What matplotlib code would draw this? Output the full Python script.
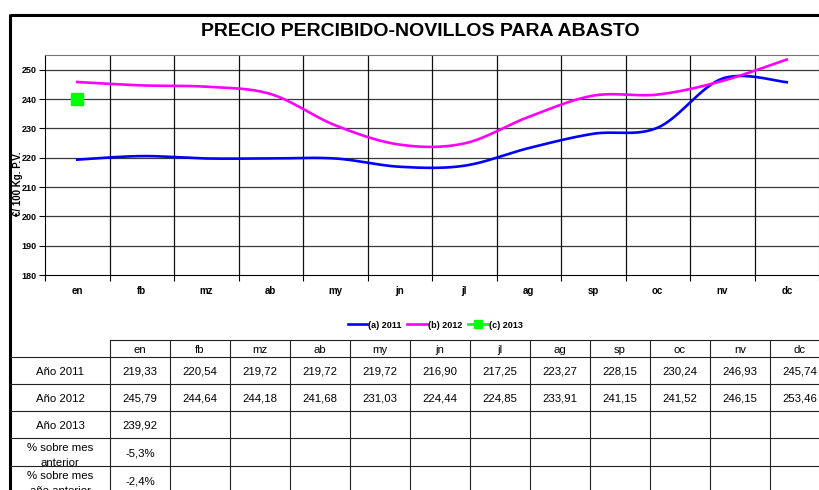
import numpy as np
import matplotlib
matplotlib.use("Agg")
import matplotlib.pyplot as plt
from matplotlib.lines import Line2D
from matplotlib.patches import Rectangle

plt.rcParams['font.family'] = ['Liberation Sans', 'DejaVu Sans']

# ---- data -------------------------------------------------------------
months = ["en", "fb", "mz", "ab", "my", "jn", "jl", "ag", "sp", "oc", "nv", "dc"]
precio_2011 = [219.33, 220.54, 219.72, 219.72, 219.72, 216.90, 217.25,
               223.27, 228.15, 230.24, 246.93, 245.74]
precio_2012 = [245.79, 244.64, 244.18, 241.68, 231.03, 224.44, 224.85,
               233.91, 241.15, 241.52, 246.15, 253.46]
precio_2013 = [239.92]
series_labels = ["(a) 2011", "(b) 2012", "(c) 2013"]
row_labels = ["Año 2011", "Año 2012", "Año 2013",
              "% sobre mes\nanterior", "% sobre mes\naño anterior"]
y_ticks = [180, 190, 200, 210, 220, 230, 240, 250]


def smooth(xs, ys, n=30):
    """Catmull-Rom style smoothing through the given points."""
    xs = np.asarray(xs, float)
    ys = np.asarray(ys, float)
    px = np.concatenate([[xs[0]], xs, [xs[-1]]])
    py = np.concatenate([[ys[0]], ys, [ys[-1]]])
    out_x, out_y = [], []
    for i in range(1, len(px) - 2):
        p0, p1, p2, p3 = (np.array([px[j], py[j]]) for j in (i - 1, i, i + 1, i + 2))
        c1 = p1 + (p2 - p0) / 6.0
        c2 = p2 - (p3 - p1) / 6.0
        t = np.linspace(0, 1, n, endpoint=(i == len(px) - 3))[:, None]
        b = ((1 - t) ** 3) * p1 + 3 * ((1 - t) ** 2) * t * c1 + 3 * (1 - t) * t ** 2 * c2 + t ** 3 * p2
        out_x.extend(b[:, 0])
        out_y.extend(b[:, 1])
    return np.array(out_x), np.array(out_y)


def fmt(v):
    return f"{v:.2f}".replace(".", ",")


def fmt_pct(v):
    return f"{v:.1f}%".replace(".", ",")


W, H = 819, 490
fig = plt.figure(figsize=(W / 100, H / 100), dpi=100)

# ---- overlay in pixel coordinates: frame, title and data table ---------
ov = fig.add_axes([0, 0, 1, 1], zorder=0)
ov.set_xlim(0, W)
ov.set_ylim(H, 0)
ov.axis("off")

ov.plot([10, W + 5], [15, 15], color="black", lw=2.2, solid_capstyle="butt")
ov.plot([10, 10], [14, H + 5], color="black", lw=2.2, solid_capstyle="butt")
ov.text(420, 32, "PRECIO PERCIBIDO-NOVILLOS PARA ABASTO", ha="center", va="center",
        fontsize=14, fontweight="bold")

row_edges = [340, 357, 384, 411, 438, 466, 494]
col0, colw = 110, 60
col_edges = [col0 + colw * k for k in range(len(months) + 1)]

tcolor = "#222222"
ov.plot([col_edges[0], col_edges[-1]], [row_edges[0]] * 2, color=tcolor, lw=0.8)
for yy in row_edges[1:]:
    ov.plot([10, col_edges[-1]], [yy, yy], color=tcolor, lw=0.8)
for xx in col_edges:
    ov.plot([xx, xx], [row_edges[0], row_edges[-1]], color=tcolor, lw=0.8)

for k, m in enumerate(months):
    ov.text(col_edges[k] + colw / 2, (row_edges[0] + row_edges[1]) / 2 + 1, m,
            ha="center", va="center", fontsize=8.2)

pct_prev_month = [precio_2013[0] / precio_2012[-1] * 100 - 100]
pct_prev_year = [precio_2013[0] / precio_2012[0] * 100 - 100]
rows = [[fmt(v) for v in precio_2011],
        [fmt(v) for v in precio_2012],
        [fmt(v) for v in precio_2013],
        [fmt_pct(v) for v in pct_prev_month],
        [fmt_pct(v) for v in pct_prev_year]]

for r, (lab, vals) in enumerate(zip(row_labels, rows)):
    y0, y1 = row_edges[r + 1], row_edges[r + 2]
    yc = (y0 + y1) / 2
    clip = Rectangle((10, y0), 100, y1 - y0, transform=ov.transData)
    lines = lab.split("\n")
    if len(lines) > 1:
        for j, part in enumerate(lines):
            t = ov.text(60, y0 + 10 + 15 * j, part, ha="center", va="center",
                        fontsize=8.2)
            t.set_clip_path(clip)
    else:
        t = ov.text(60, yc + 1, lab, ha="center", va="center", fontsize=8.2)
        t.set_clip_path(clip)
    for k, v in enumerate(vals):
        ov.text(col_edges[k] + colw / 2, yc + 1, v, ha="center", va="center",
                fontsize=8.2)

# ---- chart -------------------------------------------------------------
ax = fig.add_axes([45 / W, 1 - 275 / H, (W - 45) / W, 220 / H], zorder=1)
ax.patch.set_alpha(0)
xc = np.arange(len(months)) + 0.5

sx, sy = smooth(xc, precio_2011)
ax.plot(sx, sy, color="#0000FF", lw=1.9, zorder=4)
sx, sy = smooth(xc, precio_2012)
ax.plot(sx, sy, color="#FF00FF", lw=1.9, zorder=4)
ax.plot(xc[:len(precio_2013)], precio_2013, color="#00FF00", marker="s",
        markersize=8.5, lw=1.9, linestyle="none", zorder=5)

ax.set_xlim(0, len(months))
ax.set_ylim(180, 255)
ax.set_yticks(y_ticks)
ax.set_yticklabels([str(v) for v in y_ticks], fontsize=6.5, fontweight="bold")
ax.set_xticks(np.arange(len(months) + 1))
ax.set_xticklabels([""] * (len(months) + 1))
ax.set_xticks(xc, minor=True)
ax.set_xticklabels(months, minor=True, fontsize=7, fontweight="bold")
ax.tick_params(axis="x", which="minor", length=0, pad=8)
ax.tick_params(axis="x", which="major", length=4, width=0.8, direction="out")
ax.tick_params(axis="y", length=4, width=0.8, pad=2)

for yv in y_ticks[1:]:
    ax.axhline(yv, color="#3a3a3a", lw=0.9, zorder=1)
for xv in range(1, len(months)):
    ax.axvline(xv, color="#111111", lw=0.9, zorder=1)
for side in ("top", "right"):
    ax.spines[side].set_color("#777777")
ax.spines["left"].set_color("black")
ax.spines["bottom"].set_color("black")

fig.text(18 / W, 1 - 184 / H, "€/ 100 Kg. P.V.", rotation=90, ha="center",
         va="center", fontsize=7, fontweight="bold")

handles = [Line2D([], [], color="#0000FF", lw=1.9),
           Line2D([], [], color="#FF00FF", lw=1.9),
           Line2D([], [], color="#00FF00", lw=1.9, marker="s", markersize=6)]
fig.legend(handles, series_labels, loc="center", ncol=3,
           bbox_to_anchor=(435 / W, 1 - 325 / H), frameon=False,
           prop={"size": 6.5, "weight": "bold"}, handlelength=2.2,
           handletextpad=0.1, columnspacing=0.6)

fig.savefig("out.png", dpi=100)
